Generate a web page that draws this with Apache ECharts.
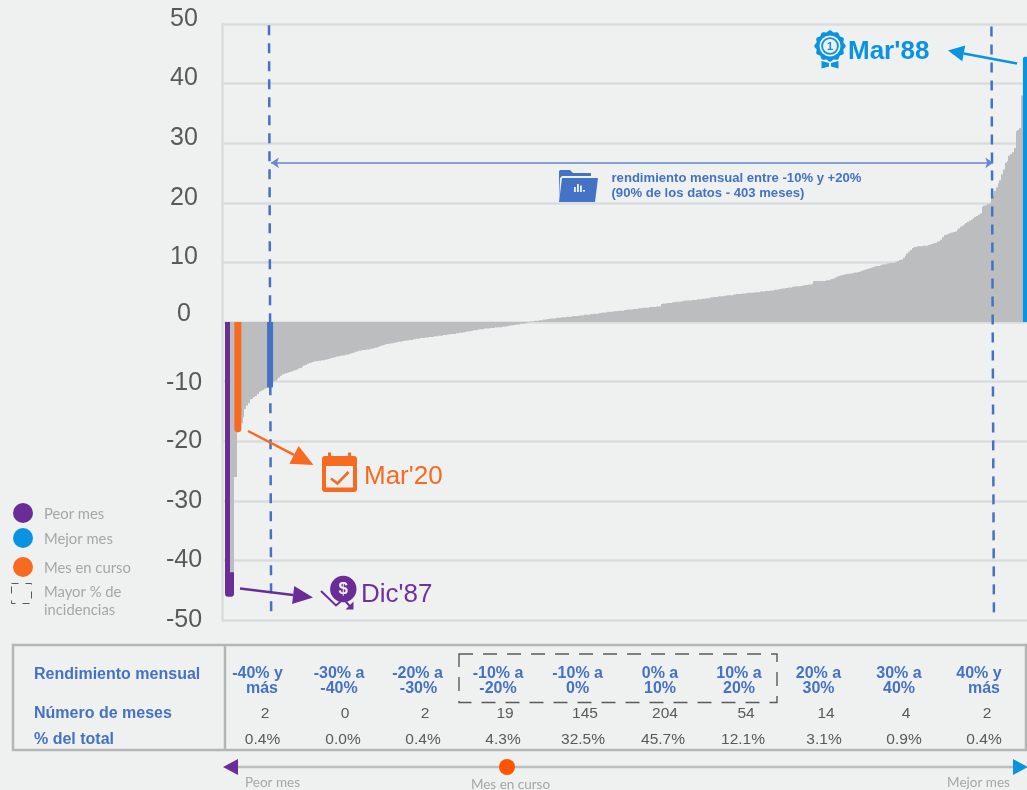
<!DOCTYPE html>
<html><head><meta charset="utf-8">
<style>html,body{margin:0;padding:0;background:#EFF1F1;overflow:hidden}#c{width:1027px;height:790px}</style>
<script src="https://cdn.jsdelivr.net/npm/echarts@6/dist/echarts.min.js"></script>
</head><body><div id="c"></div>
<script>
// Monthly returns (%), sorted
const extremeLosses = [-46.1,-42,-42,-26,-26,-18.5,-18,-17,-16,-14.6,-14,-13.6,-13,-12.9,-12.6,-12.4,-12.1,-11.7,-11.6,-11.4,-11.2,-11.1,-11,-11,-10.2];
const losses = [-10,-9.8,-9.6,-9.3,-9.0,
 -8.8,-8.7,-8.6,-8.5,-8.4,-8.3,-8.2,-8.1,
 -8.0,-7.8,-7.7,-7.5,-7.3,
 -7.2,-7.0,-6.9,-6.8,
 -6.7,-6.6,-6.6,-6.5,-6.5,-6.4,-6.4,-6.3,-6.3,
 -6.2,-6.1,-6.0,-5.9,
 -5.8,-5.8,-5.7,-5.6,-5.6,-5.5,-5.5,
 -5.4,-5.3,-5.2,-5.1,-5.0,-4.9,
 -4.8,-4.8,-4.7,-4.7,-4.6,-4.6,-4.5,-4.5,
 -4.4,-4.3,-4.2,-4.1,-4.0,-3.9,-3.8,
 -3.7,-3.7,-3.6,-3.6,-3.5,-3.5,-3.4,-3.3,-3.3,
 -3.2,-3.2,-3.1,-3.1,-3.0,-3.0,-2.9,-2.9,-2.8,-2.8,-2.7,-2.7,-2.7,
 -2.6,-2.6,-2.5,-2.5,-2.5,-2.4,-2.4,-2.3,-2.3,-2.3,-2.2,-2.2,-2.1,-2.1,-2.0,-2.0,-2.0,-1.9,-1.9,
 -1.8,-1.8,-1.7,-1.7,-1.6,-1.6,-1.5,-1.5,-1.4,-1.4,-1.3,
 -1.2,-1.2,-1.2,-1.1,-1.1,-1.1,-1.0,-1.0,-1.0,-0.9,-0.9,-0.9,-0.9,
 -0.8,-0.8,-0.7,-0.7,-0.6,-0.6,
 -0.5,-0.5,-0.4,-0.4,-0.3,-0.3,-0.2,-0.2,-0.1];
const gains = [0.1,0.1,0.1,0.2,0.2,0.2,0.3,
 0.3,0.4,0.4,0.5,0.5,0.6,
 0.6,0.6,0.7,0.7,0.7,0.8,0.8,0.8,
 0.9,0.9,0.9,1.0,1.0,1.0,1.0,1.1,
 1.1,1.1,1.2,1.2,1.2,1.3,1.3,
 1.4,1.4,1.4,1.5,1.5,
 1.6,1.6,1.6,1.7,1.7,
 1.7,1.8,1.8,1.8,1.9,1.9,1.9,2.0,2.0,
 2.1,2.1,2.1,2.2,2.2,2.2,2.3,2.3,
 2.3,2.4,2.4,2.4,2.5,2.5,2.5,2.5,2.6,2.6,2.6,
 3.0,3.1,3.1,3.2,3.2,3.2,
 3.3,3.3,3.4,3.4,3.4,3.5,3.5,
 3.6,3.6,3.6,3.6,3.7,3.7,3.7,
 3.8,3.8,3.8,3.9,3.9,4.0,4.0,
 4.1,4.1,4.2,4.2,4.2,4.3,4.3,4.3,
 4.4,4.4,4.5,4.5,4.5,4.6,4.6,4.7,4.7,4.7,
 4.8,4.8,4.8,4.9,4.9,4.9,4.9,
 5.0,5.0,5.0,5.1,5.1,5.1,5.2,5.2,5.2,5.3,5.3,
 5.4,5.4,5.5,5.5,5.6,5.6,5.7,5.7,5.8,5.8,
 5.9,5.9,6.0,6.0,6.0,6.1,6.1,6.2,6.2,6.3,6.3,
 6.4,
 6.9,6.9,6.9,6.9,6.9,6.9,
 6.9,7.0,7.0,7.1,7.2,7.3,
 7.5,7.6,7.7,7.8,7.9,
 8.0,8.0,8.1,8.1,8.2,8.2,8.3,
 8.3,8.4,8.5,8.6,8.7,8.8,8.9,9.0,9.1,
 9.2,9.3,9.4,9.4,9.5,9.6,9.7,9.7,9.8,9.9,
 9.9,9.9,
 10.0,10.1,10.2,10.4,10.5,10.8,11.1,
 11.5,11.8,12.1,12.4,
 12.6,12.6,12.7,12.7,12.7,12.8,12.8,12.8,
 12.9,13.0,13.1,13.2,13.3,13.5,13.6,
 13.8,14.2,
 14.6,14.7,14.8,14.9,15.0,15.1,
 15.2,15.5,15.7,16.0,16.2,16.4,16.6,
 16.8,17.0,17.2,17.4,17.6,17.8,18.0,
 18.2,
 19.3,19.5,19.6,19.8,19.9];
const extremeGains = [21.0,21.2,22.0,22.6,23.3,23.8,24.8,25.6,26.7,27.0,27.9,28.2,28.5,29.2,32.0,32.2,32.5,38.0,38.0,44.5];

// Highlighted months: position in the sorted list
const worstIndex = 0;      // Dic'87
const currentIndex = 5;    // Mar'20
const boundaryIndex = 23;  // -10% limit
const bestIndex = 445;     // Mar'88

// Table
const rowTitles = ['Rendimiento mensual','Número de meses','% del total'];
const rangeTop = ['-40% y','-30% a','-20% a','-10% a','-10% a','0% a','10% a','20% a','30% a','40% y'];
const rangeBottom = ['más','-40%','-30%','-20%','0%','10%','20%','30%','40%','más'];
const monthCounts = ['2','0','2','19','145','204','54','14','4','2'];
const totalShares = ['0.4%','0.0%','0.4%','4.3%','32.5%','45.7%','12.1%','3.1%','0.9%','0.4%'];

const yTicks = [-50,-40,-30,-20,-10,0,10,20,30,40,50];

// ----- layout & style -----
const allValues = extremeLosses.concat(losses, gains, extremeGains);
const C = {bg:'#EFF1F1',grid:'#DADCDC',bar:'#BCBDBF',purple:'#6A2C96',blue:'#0993E0',orange:'#F76A21',steel:'#4472C4',grey:'#595959',soft:'#A6A6A6',frame:'#B4B6B6'};
const topX = [257.5,339,417.5,498,577.6,660,739,818.5,899,979];
const botX = [262,339,418.5,498,577.6,660,739,818.5,899,984];
const countX = [265,345,425,505,585,665,746,826,906,987];
const shareX = [262.5,343,423,503,583,663,743,824,904,984];
const SANS = '"Liberation Sans",Arial,sans-serif';
const SOFT = 'Lato,"Open Sans",sans-serif';

function txt(text,x,y,o){o=o||{};return {type:'text',silent:true,z:o.z||20,x:x,y:y,style:{text:text,x:0,y:0,fill:o.c||C.grey,font:(o.w||'normal')+' '+(o.s||15)+'px '+(o.f||SANS),textAlign:o.a||'center',textVerticalAlign:'middle'}};}
function arrow(x1,y1,x2,y2,col,lw,hl,hw){
  const d=Math.hypot(x2-x1,y2-y1),ux=(x2-x1)/d,uy=(y2-y1)/d,bx=x2-ux*hl,by=y2-uy*hl;
  return [{type:'line',silent:true,z:20,shape:{x1:x1,y1:y1,x2:bx,y2:by},style:{stroke:col,lineWidth:lw}},
          {type:'polygon',silent:true,z:20,shape:{points:[[x2,y2],[bx-uy*hw/2,by+ux*hw/2],[bx+uy*hw/2,by-ux*hw/2]]},style:{fill:col}}];
}
function poly(points,fill){return {type:'polygon',silent:true,z:20,shape:{points:points},style:{fill:fill}};}
function pl(points,stroke,lw){return {type:'polyline',silent:true,z:20,shape:{points:points},style:{stroke:stroke,lineWidth:lw,fill:null}};}
function circ(cx,cy,r,fill){return {type:'circle',silent:true,z:20,shape:{cx:cx,cy:cy,r:r},style:{fill:fill}};}
function box(x,y,w,h,o){return {type:'rect',silent:true,z:o.z||19,shape:{x:x,y:y,width:w,height:h,r:o.r||0},style:{fill:o.fill||null,stroke:o.stroke||null,lineWidth:o.lw||1,lineDash:o.dash||null}};}

const g = [];
// left legend
g.push(circ(23,513,10,C.purple),circ(23,538,10,C.blue),circ(23,567,10,C.orange));
g.push(box(11.5,583.5,20,20,{stroke:C.grey,lw:1,dash:[7,7]}));
[['Peor mes',514],['Mejor mes',539],['Mes en curso',568],['Mayor % de',592],['incidencias',610]].forEach(l=>g.push(txt(l[0],44,l[1],{a:'left',s:14.8,c:C.soft,f:SOFT})));
// table
g.push(box(13,645,1013,105,{stroke:C.frame,lw:2.5}));
g.push({type:'line',silent:true,z:19,shape:{x1:225,y1:645,x2:225,y2:750},style:{stroke:C.frame,lineWidth:2.5}});
g.push(box(459,654,318,48.5,{stroke:C.grey,lw:1.4,dash:[14,10]}));
g.push(txt(rowTitles[0],34,675,{a:'left',w:'bold',s:16,c:C.steel}));
g.push(txt(rowTitles[1],34,713.5,{a:'left',w:'bold',s:16,c:C.steel}));
g.push(txt(rowTitles[2],34,739.5,{a:'left',w:'bold',s:16,c:C.steel}));
rangeTop.forEach((t,i)=>{
  g.push(txt(t,topX[i],673.5,{w:'bold',s:16,c:C.steel}));
  g.push(txt(rangeBottom[i],botX[i],688.5,{w:'bold',s:16,c:C.steel}));
  g.push(txt(monthCounts[i],countX[i],714,{s:15.5}));
  g.push(txt(totalShares[i],shareX[i],739.5,{s:15.5}));
});
// bottom scale
g.push({type:'line',silent:true,z:19,shape:{x1:236,y1:767,x2:1014,y2:767},style:{stroke:'#BDBFBF',lineWidth:2.5}});
g.push(poly([[223,767],[238,759],[238,775]],C.purple),poly([[1028,767],[1013,759],[1013,775]],C.blue),circ(507,767,8,'#FF5400'));
g.push(txt('Peor mes',245,783,{a:'left',s:13.5,c:C.soft,f:SOFT}),txt('Mes en curso',510.5,785,{s:13.5,c:C.soft,f:SOFT}),txt('Mejor mes',978.5,783,{s:13.5,c:C.soft,f:SOFT}));
// callouts
g.push(txt("Mar'88",848,51.5,{a:'left',w:'bold',s:26,c:C.blue}));
g.push(txt("Mar'20",364,476.5,{a:'left',s:26,c:C.orange}));
g.push(txt("Dic'87",361,594.5,{a:'left',s:26,c:'#7030A0'}));
g.push(...arrow(1017,63.5,948,50.5,C.blue,2.5,16,16));
g.push(...arrow(248,431,313.5,465,C.orange,2.5,22,20));
g.push(...arrow(240,588.5,313,597.5,C.purple,2.5,20,18));
// medal icon
(function(){
  const cx=830,cy=46,pts=[];
  for(let k=0;k<96;k++){const a=k/96*2*Math.PI,r=14.8+0.9*Math.cos(a*12);pts.push([cx+r*Math.cos(a),cy+r*Math.sin(a)]);}
  g.push(poly(pts,C.blue),circ(cx,cy,10.5,C.bg),circ(cx,cy,8.8,C.blue),circ(cx,cy,7,C.bg));
  g.push(txt('1',cx,cy+0.5,{w:'bold',s:11,c:C.blue}));
  g.push(poly([[821.5,61],[829,63],[829,66.5],[821.5,68.5]],C.blue),poly([[838.5,61],[831,63],[831,66.5],[838.5,68.5]],C.blue));
})();
// calendar icon
g.push(box(322,456,35,36,{fill:C.orange,r:3}),box(328,452.5,3,6,{fill:C.orange}),box(348,452.5,3,6,{fill:C.orange}),box(326,466,27,21.5,{fill:C.bg}));
g.push(pl([[331,478.5],[337.5,483.5],[348.5,472]],C.orange,2.6));
// dollar icon
g.push(pl([[321,591],[336,605.5],[343.5,599],[351,607.5]],C.purple,2),poly([[353.5,601.5],[353.5,609.5],[345.5,609.5]],C.purple));
g.push(circ(343.3,589,13.2,C.purple),txt('$',343.3,589.5,{w:'bold',s:17,c:C.bg}));
// folder icon
g.push(poly([[559,202],[559,171],[560.5,170],[570,170],[573,173],[591,173],[591,176],[562,176],[560,178]],C.steel));
g.push(poly([[562,178],[598,178],[595,202],[559,202]],C.steel));
g.push(box(574,187,1.8,5,{fill:C.bg,z:21}),box(577,184,1.8,8,{fill:C.bg,z:21}),box(580,185.5,1.8,6.5,{fill:C.bg,z:21}),box(583,190,2,1.6,{fill:C.bg,z:21}));
// range note
g.push(txt('rendimiento mensual entre -10% y +20%',611.5,178,{a:'left',w:'bold',s:13.1,c:C.steel}));
g.push(txt('(90% de los datos - 403 meses)',611.5,193,{a:'left',w:'bold',s:13.1,c:C.steel}));

function rectMark(col,width,radii,shift){
  return function(p,api){
    const i=api.value(0),v=api.value(1);
    const x=api.coord([i,0])[0]+shift,y0=api.coord([i,0])[1],y1=api.coord([i,v])[1];
    return {type:'rect',shape:{x:x-width/2,y:Math.min(y0,y1),width:width,height:Math.abs(y1-y0),r:radii},style:{fill:col}};
  };
}
// grey columns are snapped to whole pixels so neighbours join without seams
function snappedBar(p,api){
  const i=api.value(0),v=api.value(1);
  const x=Math.round(api.coord([i,0])[0]-0.9),y0=api.coord([i,0])[1],y1=api.coord([i,v])[1];
  return {type:'rect',shape:{x:x,y:Math.min(y0,y1),width:2,height:Math.abs(y1-y0)},style:{fill:C.bar}};
}
function markSeries(data,col,width,radii,z,shift){
  return {type:'custom',z:z,silent:true,clip:false,renderItem:rectMark(col,width,radii,shift||0),encode:{x:0,y:1},data:data};
}
function one(i){return [[i,allValues[i]]];}
const grayData = allValues.map((v,i)=>[i,v]).filter(d=>d[0]!==worstIndex);

const chart = echarts.init(document.getElementById('c'),null,{width:1027,height:790});
const rich = (pad)=>({padding:pad,fontSize:25,color:C.grey,fontFamily:SANS});
chart.setOption({
  animation:false,
  backgroundColor:C.bg,
  grid:{left:222,top:24,width:805,height:596,containLabel:false},
  xAxis:{type:'value',min:-3.855,max:445.87,show:false,splitLine:{show:false}},
  yAxis:{type:'value',min:yTicks[0],max:yTicks[yTicks.length-1],interval:10,
    axisLine:{show:true,onZero:false,lineStyle:{color:C.grid,width:2.5}},axisTick:{show:false},
    splitLine:{show:true,lineStyle:{color:C.grid,width:2.5}},
    axisLabel:{show:true,align:'center',margin:38,color:C.grey,fontFamily:SANS,fontSize:25,
      formatter:function(v){return v>0?'{p|'+v+'}':(v===0?'{z|0}':(v===-10?'{m|'+v+'}':'{n|'+v+'}'));},
      rich:{p:rich([0,0,10,0]),z:rich([0,0,16,0]),n:rich([0,0,0,0]),m:rich([4,0,0,0])}}},
  series:[
    markSeries(one(worstIndex),C.purple,9,[0,0,3,3],1,0.6),
    {type:'custom',z:2,silent:true,clip:false,renderItem:snappedBar,encode:{x:0,y:1},data:grayData},
    markSeries(one(currentIndex),C.orange,7,[0,0,3.5,3.5],3),
    markSeries(one(boundaryIndex),C.steel,6,[0,0,1,1],3),
    markSeries(one(bestIndex),C.blue,5,[2,2,0,0],3),
    {type:'line',z:4,silent:true,data:[],showSymbol:false,
      markLine:{silent:true,animation:false,symbol:'none',label:{show:false},lineStyle:{color:C.steel,width:2.5,type:[10,8]},
        data:[[{coord:[22.4,49.8]},{coord:[23.6,-49]}],[{coord:[426,49.6]},{coord:[427.4,-49.3]}]]}},
    {type:'line',z:4,silent:true,data:[],showSymbol:false,
      markLine:{silent:true,animation:false,symbol:['arrow','arrow'],symbolSize:8,label:{show:false},lineStyle:{color:'#6487CE',width:1.5,type:'solid'},
        data:[[{coord:[23.5,26.7]},{coord:[427,26.7]}]]}}
  ],
  graphic:{elements:g}
});
</script></body></html>
